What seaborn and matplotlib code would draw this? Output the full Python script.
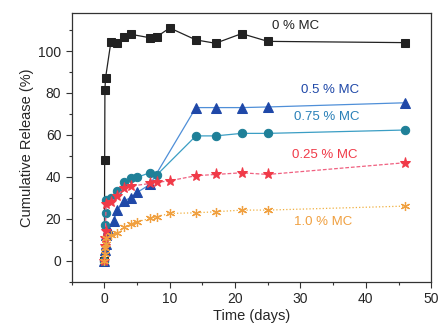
import numpy as np
import pandas as pd
import matplotlib
matplotlib.use('Agg')
import matplotlib.pyplot as plt
from matplotlib.ticker import MultipleLocator
import seaborn as sns

# release data (time in days, cumulative release in %)
t_0 = [0, 0.04, 0.08, 0.17, 1, 2, 3, 4, 7, 8, 10, 14, 17, 21, 25, 46]
r_0 = [0, 48, 81.5, 87, 104.5, 103.7, 106.5, 108, 106.3, 106.8, 111, 105.3, 103.7, 108.3, 104.6, 104]

t_05 = [0, 0.08, 0.17, 0.25, 0.5, 1.4, 2, 3, 4, 5, 7, 14, 17, 21, 25, 46]
r_05 = [0, 5, 8, 12, 15, 19, 24, 28.5, 30, 32.5, 36.4, 73, 73, 73, 73.3, 75.3]

t_075 = [0, 0.08, 0.17, 0.25, 1, 2, 3, 4, 5, 7, 8, 14, 17, 21, 25, 46]
r_075 = [0, 17, 22.5, 29, 30, 33, 37.6, 39.2, 39.7, 42, 40.8, 59.5, 59.5, 60.7, 60.7, 62.3]

t_025 = [0, 0.04, 0.08, 0.17, 0.25, 1, 2, 3, 4, 7, 8, 10, 14, 17, 21, 25, 46]
r_025 = [0, 7, 11, 14, 27, 28, 31, 34.5, 35.5, 36.8, 37.3, 38.1, 40.5, 41.1, 41.9, 41.1, 46.7]

t_10 = [0, 0.04, 0.08, 0.17, 0.25, 1, 2, 3, 4, 5, 7, 8, 10, 14, 17, 21, 25, 46]
r_10 = [0, 3, 6, 8, 11, 12, 13, 15.8, 17.4, 18.5, 20.1, 20.9, 22.5, 22.8, 23.3, 24.1, 24.1, 26]

sns.set_style('ticks')
plt.rcParams['font.family'] = ['Liberation Sans', 'DejaVu Sans']

fig = plt.figure(figsize=(4.4, 3.24), dpi=100)
ax = fig.add_axes([0.163, 0.131, 0.817, 0.828])

# 0 % MC
sns.lineplot(x=t_0, y=r_0, ax=ax, sort=False, color='#222222', lw=0.9,
             marker='s', markersize=6, markeredgecolor='#222222')
# 0.5 % MC
sns.lineplot(x=t_05, y=r_05, ax=ax, sort=False, color='#4f8fd8', lw=0.9,
             marker='^', markersize=7, markerfacecolor='#1f48a8',
             markeredgecolor='#1f48a8')
# 0.75 % MC
sns.lineplot(x=t_075, y=r_075, ax=ax, sort=False, color='#3b9ec4', lw=0.9,
             marker='o', markersize=6, markerfacecolor='#1f8098',
             markeredgecolor='#1f8098')
# 0.25 % MC
sns.lineplot(x=t_025, y=r_025, ax=ax, sort=False, color='#f06080', lw=0.9,
             linestyle=(0, (3, 1.5)), marker='*', markersize=8,
             markerfacecolor='#f03a48', markeredgecolor='#f03a48')
# 1.0 % MC
sns.lineplot(x=t_10, y=r_10, ax=ax, sort=False, color='#f0b040', lw=0.9,
             linestyle=':', marker=(6, 2, 0), markersize=6.5,
             markeredgecolor='#f0a040', markeredgewidth=0.9)

ax.text(29.2, 112, '0 % MC', color='#222222', fontsize=9.5, ha='center', va='center')
ax.text(34.5, 81.4, '0.5 % MC', color='#1f48a8', fontsize=9.5, ha='center', va='center')
ax.text(34.0, 68.5, '0.75 % MC', color='#2a80b8', fontsize=9.5, ha='center', va='center')
ax.text(33.7, 50.5, '0.25 % MC', color='#f03a48', fontsize=9.5, ha='center', va='center')
ax.text(33.5, 18.5, '1.0 % MC', color='#f0a040', fontsize=9.5, ha='center', va='center')

ax.set_xlim(-5, 50)
ax.set_ylim(-10, 118)
ax.xaxis.set_major_locator(MultipleLocator(10))
ax.xaxis.set_minor_locator(MultipleLocator(5))
ax.yaxis.set_major_locator(MultipleLocator(20))
ax.yaxis.set_minor_locator(MultipleLocator(10))
ax.tick_params(which='major', length=4, width=0.8, labelsize=10, color='#333333')
ax.tick_params(which='minor', length=2.5, width=0.8, color='#333333')
ax.set_yticks([0, 20, 40, 60, 80, 100])

for sp in ax.spines.values():
    sp.set_color('#333333')
    sp.set_linewidth(0.9)

ax.set_xlabel('Time (days)', fontsize=10.5, labelpad=2)
ax.set_ylabel('Cumulative Release (%)', fontsize=10.5, labelpad=3)

fig.savefig('out.png', dpi=100)
